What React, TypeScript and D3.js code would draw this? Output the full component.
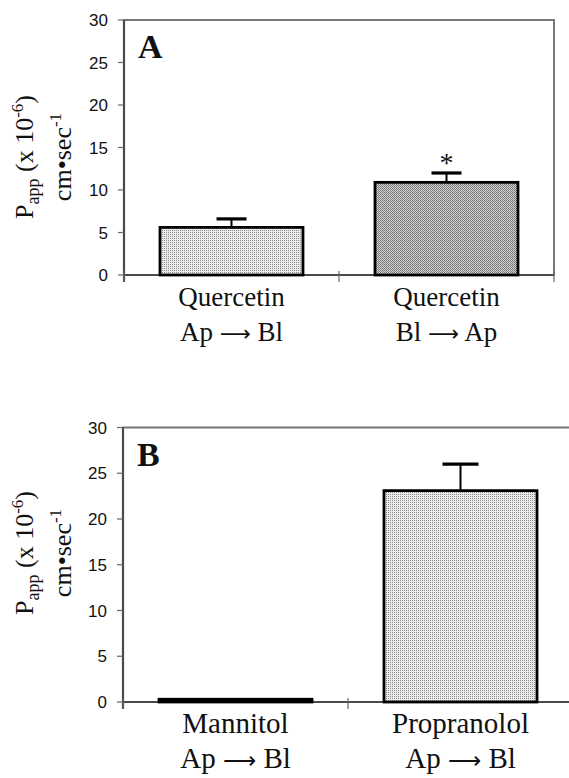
import React from "react";
import * as d3 from "d3";

const width = 569;
const height = 778;

// panel A
const aCategories = ["Quercetin Ap", "Quercetin Bl"];
const aLabels = [["Quercetin", "Ap", "Bl"], ["Quercetin", "Bl", "Ap"]];
const aValues = [5.6, 10.9];
const aErrors = [1.0, 1.1];
const aFills = ["url(#dotsLight)", "url(#dotsDark)"];

// panel B
const bCategories = ["Mannitol", "Propranolol"];
const bLabels = [["Mannitol", "Ap", "Bl"], ["Propranolol", "Ap", "Bl"]];
const bValues = [0.3, 23.1];
const bErrors = [0, 2.9];
const bFills = ["#111", "url(#dotsLight)"];

const yTicks = [0, 5, 10, 15, 20, 25, 30];

const serif = "'Liberation Serif', 'Times New Roman', serif";
const sans = "'Liberation Sans', Arial, sans-serif";

type PanelProps = {
  letter: string;
  cats: string[];
  labels: string[][];
  values: number[];
  errors: number[];
  fills: string[];
  x0: number;
  x1: number;
  yTop: number;
  yBottom: number;
  padding: number;
  capWidth: number;
  labelSize: number;
  titleY: number;
  star?: number;
};

const Panel = (p: PanelProps) => {
  const y = d3.scaleLinear().domain([0, 30]).range([p.yBottom, p.yTop]);
  const x = d3
    .scaleBand()
    .domain(p.cats)
    .range([p.x0, p.x1])
    .paddingInner(p.padding)
    .paddingOuter(p.padding / 2);
  const step = x.step();
  const axisColor = "#4a4a4a";
  return (
    <g>
      {/* frame */}
      <rect
        x={p.x0}
        y={p.yTop}
        width={p.x1 - p.x0}
        height={p.yBottom - p.yTop}
        fill="none"
        stroke="#777"
        strokeWidth={2}
      />
      <line x1={p.x0} x2={p.x0} y1={p.yTop} y2={p.yBottom + 7} stroke={axisColor} strokeWidth={2.2} />
      <line x1={p.x0} x2={p.x1} y1={p.yBottom} y2={p.yBottom} stroke={axisColor} strokeWidth={2.2} />
      {/* y ticks */}
      {yTicks.map((t) => (
        <g key={t}>
          <line x1={p.x0 - 6} x2={p.x0} y1={y(t)} y2={y(t)} stroke="#666" strokeWidth={1.2} />
          <text
            x={p.x0 - 16}
            y={y(t)}
            dy="0.36em"
            textAnchor="end"
            fontFamily={sans}
            fontSize={17}
            fill="#111"
          >
            {t}
          </text>
        </g>
      ))}
      {/* x ticks at band boundaries */}
      {[0, 1, 2].map((i) => (
        <line
          key={i}
          x1={p.x0 + i * step}
          x2={p.x0 + i * step}
          y1={p.yBottom - 4}
          y2={p.yBottom + 7}
          stroke="#666"
          strokeWidth={1.2}
        />
      ))}
      {/* bars */}
      {p.cats.map((c, i) => {
        const bx = x(c) as number;
        const cx = bx + x.bandwidth() / 2;
        const top = y(p.values[i]);
        const errTop = y(p.values[i] + p.errors[i]);
        const [name, from, to] = p.labels[i];
        return (
          <g key={c}>
            {p.errors[i] > 0 && (
              <g>
                <line x1={cx} x2={cx} y1={top} y2={errTop} stroke="#000" strokeWidth={2} />
                <line
                  x1={cx - p.capWidth / 2}
                  x2={cx + p.capWidth / 2}
                  y1={errTop}
                  y2={errTop}
                  stroke="#000"
                  strokeWidth={3.2}
                />
              </g>
            )}
            <rect
              x={bx}
              y={top}
              width={x.bandwidth()}
              height={p.yBottom - top}
              fill={p.fills[i]}
              stroke="#000"
              strokeWidth={2.8}
            />
            <text
              x={cx}
              y={p.yBottom + 31}
              textAnchor="middle"
              fontFamily={serif}
              fontSize={p.labelSize}
              fill="#111"
            >
              {name}
            </text>
            <text
              x={cx}
              y={p.yBottom + 66}
              textAnchor="middle"
              fontFamily={serif}
              fontSize={p.labelSize}
              fill="#111"
            >
              {from}{" "}
              <tspan fontFamily="'DejaVu Sans', sans-serif" fontSize={p.labelSize * 0.8}>
                ⟶
              </tspan>
              <tspan> {to}</tspan>
            </text>
          </g>
        );
      })}
      {p.star !== undefined && (
        <text
          x={(x(p.cats[p.star]) as number) + x.bandwidth() / 2}
          y={y(p.values[p.star] + p.errors[p.star]) - 1}
          textAnchor="middle"
          fontFamily={serif}
          fontSize={28}
          fill="#111"
        >
          *
        </text>
      )}
      {/* panel letter */}
      <text x={p.x0 + 14} y={p.yTop + 38} fontFamily={serif} fontWeight="bold" fontSize={34} fill="#111">
        {p.letter}
      </text>
      {/* y axis title */}
      <g transform={`translate(33, ${p.titleY}) rotate(-90)`}>
        <text textAnchor="middle" fontFamily={serif} fontSize={26} fill="#111">
          P<tspan dy={6} fontSize={18}>app</tspan>
          <tspan dy={-6}> (x 10</tspan>
          <tspan dy={-10} fontSize={17}>-6</tspan>
          <tspan dy={10}>)</tspan>
        </text>
      </g>
      <g transform={`translate(71, ${p.titleY}) rotate(-90)`}>
        <text textAnchor="middle" fontFamily={serif} fontSize={26} fill="#111">
          cm•sec<tspan dy={-10} fontSize={17}>-1</tspan>
        </text>
      </g>
    </g>
  );
};

export default function App() {
  return (
    <svg
      width={width}
      height={height}
      style={{ position: "absolute", left: 0, top: 0, background: "#fff" }}
    >
      <defs>
        <pattern id="dotsLight" width={2} height={2} patternUnits="userSpaceOnUse">
          <rect width={2} height={2} fill="#ececec" />
          <rect width={1} height={1} fill="#8c8c8c" />
        </pattern>
        <pattern id="dotsDark" width={2} height={2} patternUnits="userSpaceOnUse">
          <rect width={2} height={2} fill="#d4d4d4" />
          <rect width={1} height={1} fill="#6e6e6e" />
          <rect x={1} y={1} width={1} height={1} fill="#808080" />
        </pattern>
      </defs>
      <Panel
        letter="A"
        cats={aCategories}
        labels={aLabels}
        values={aValues}
        errors={aErrors}
        fills={aFills}
        x0={124}
        x1={554}
        yTop={20}
        yBottom={275}
        padding={0.335}
        capWidth={30}
        labelSize={27}
        titleY={157}
        star={1}
      />
      <Panel
        letter="B"
        cats={bCategories}
        labels={bLabels}
        values={bValues}
        errors={bErrors}
        fills={bFills}
        x0={123}
        x1={573}
        yTop={427.5}
        yBottom={702}
        padding={0.32}
        capWidth={36}
        labelSize={29}
        titleY={553}
      />
    </svg>
  );
}
